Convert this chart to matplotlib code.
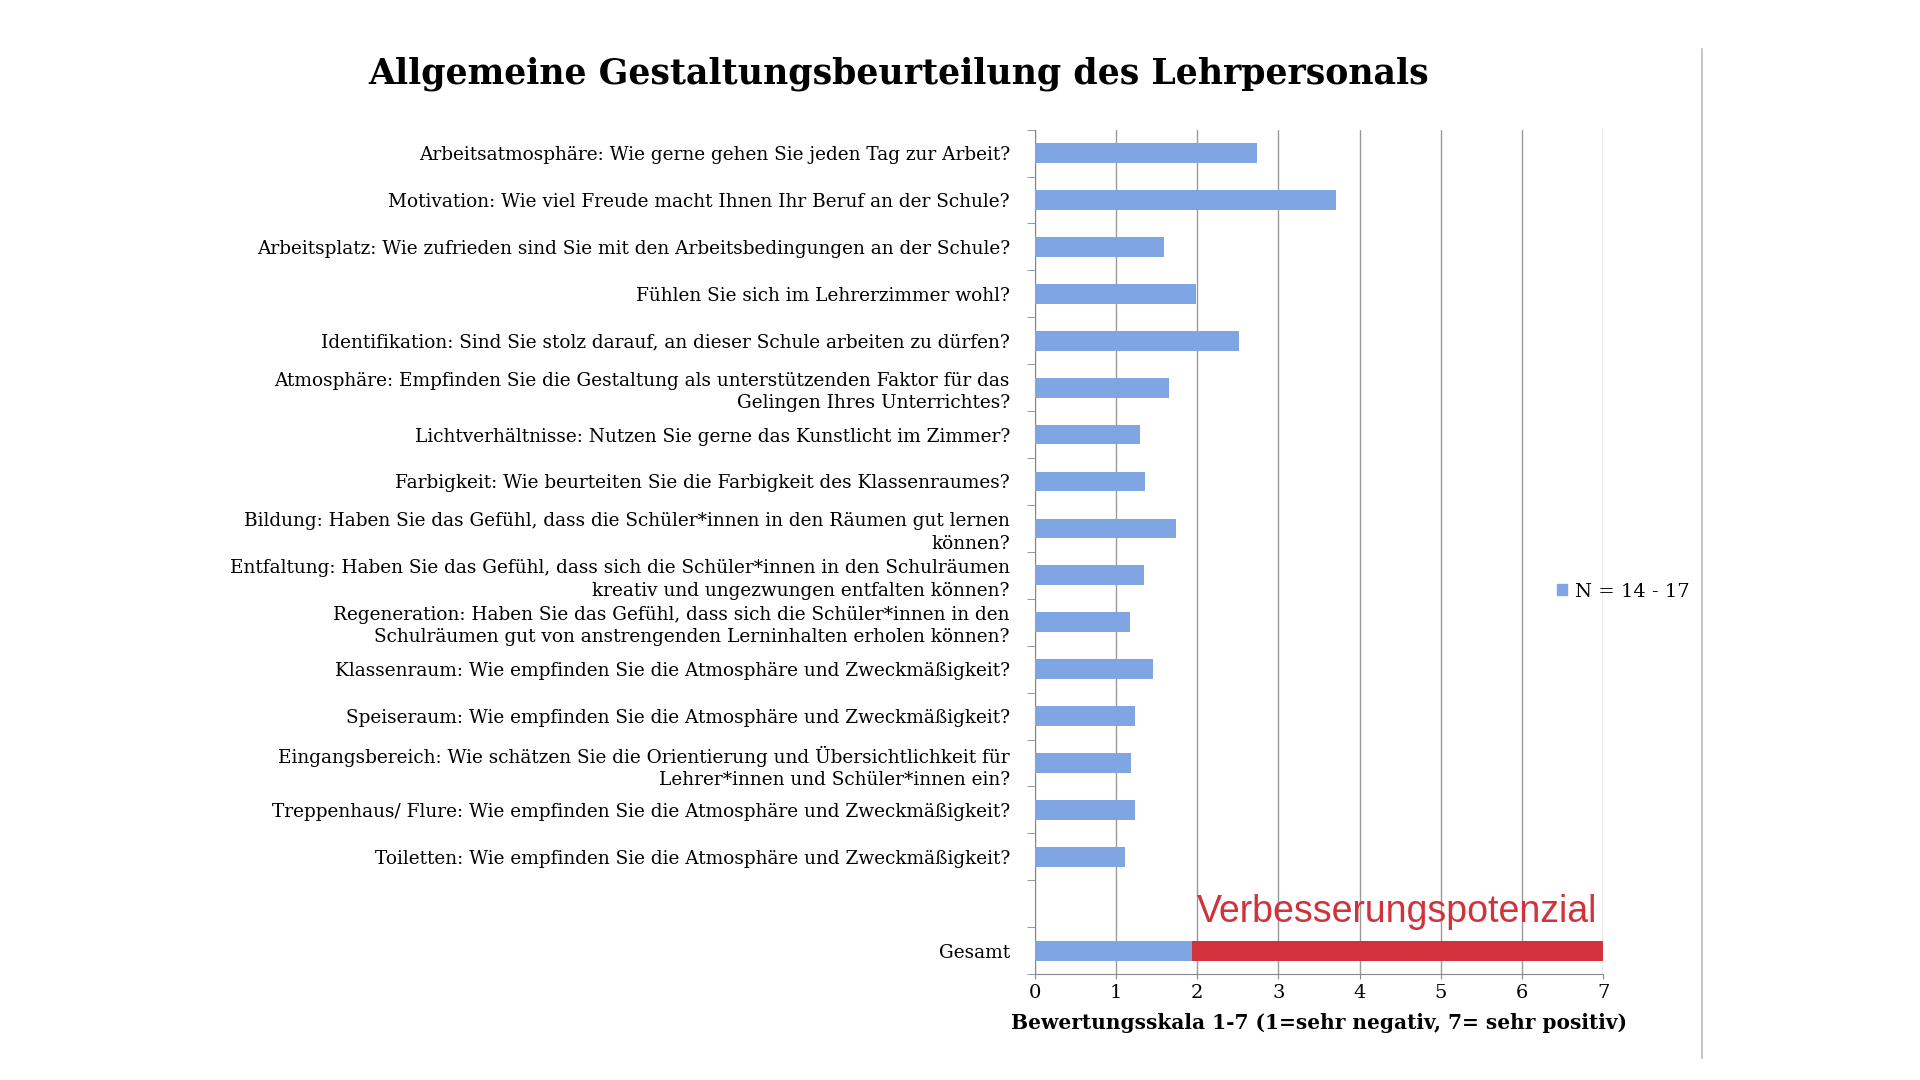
import matplotlib
matplotlib.use("Agg")
import matplotlib.pyplot as plt
from matplotlib.lines import Line2D
from matplotlib.patches import Patch

questions = [
    "Arbeitsatmosphäre: Wie gerne gehen Sie jeden Tag zur Arbeit?",
    "Motivation: Wie viel Freude macht Ihnen Ihr Beruf an der Schule?",
    "Arbeitsplatz: Wie zufrieden sind Sie mit den Arbeitsbedingungen an der Schule?",
    "Fühlen Sie sich im Lehrerzimmer wohl?",
    "Identifikation: Sind Sie stolz darauf, an dieser Schule arbeiten zu dürfen?",
    "Atmosphäre: Empfinden Sie die Gestaltung als unterstützenden Faktor für das\nGelingen Ihres Unterrichtes?",
    "Lichtverhältnisse: Nutzen Sie gerne das Kunstlicht im Zimmer?",
    "Farbigkeit: Wie beurteiten Sie die Farbigkeit des Klassenraumes?",
    "Bildung: Haben Sie das Gefühl, dass die Schüler*innen in den Räumen gut lernen\nkönnen?",
    "Entfaltung: Haben Sie das Gefühl, dass sich die Schüler*innen in den Schulräumen\nkreativ und ungezwungen entfalten können?",
    "Regeneration: Haben Sie das Gefühl, dass sich die Schüler*innen in den\nSchulräumen gut von anstrengenden Lerninhalten erholen können?",
    "Klassenraum: Wie empfinden Sie die Atmosphäre und Zweckmäßigkeit?",
    "Speiseraum: Wie empfinden Sie die Atmosphäre und Zweckmäßigkeit?",
    "Eingangsbereich: Wie schätzen Sie die Orientierung und Übersichtlichkeit für\nLehrer*innen und Schüler*innen ein?",
    "Treppenhaus/ Flure: Wie empfinden Sie die Atmosphäre und Zweckmäßigkeit?",
    "Toiletten: Wie empfinden Sie die Atmosphäre und Zweckmäßigkeit?",
    "",
    "Gesamt",
]
values = [2.74, 3.71, 1.59, 1.98, 2.52, 1.65, 1.29, 1.36, 1.74, 1.35, 1.17,
          1.45, 1.23, 1.18, 1.23, 1.11, 0, 1.94]
scale_max = 7

blue = "#7fa6e2"
red = "#d2323c"

plt.rcParams["font.family"] = ["DejaVu Serif"]
fig = plt.figure(figsize=(19.2, 10.8), dpi=100)
ax = fig.add_axes([0.539, 0.098, 0.296, 0.782])

ypos = list(range(len(questions)))
ax.barh(ypos, values, height=0.42, color=blue, zorder=3)
gi = len(questions) - 1
ax.barh(gi, scale_max - values[gi], left=values[gi], height=0.42, color=red, zorder=3)
ax.text(scale_max - 0.08, gi - 0.45, "Verbesserungspotenzial", color=red,
        family="Liberation Sans", fontsize=27, ha="right", va="bottom")

ax.set_ylim(len(questions) - 0.5, -0.5)
ax.set_xlim(0, scale_max)
ax.set_xticks(range(scale_max + 1))
ax.set_yticks(ypos)
ax.set_yticklabels(questions, fontsize=13.3, linespacing=1.3)
ax.set_yticks([y + 0.5 for y in range(-1, len(questions))], minor=True)
ax.tick_params(axis="y", which="major", length=0, pad=18)
ax.tick_params(axis="y", which="minor", length=6, color="#888888")
ax.tick_params(axis="x", labelsize=14, color="#888888")
ax.grid(axis="x", color="#999999", lw=1, zorder=0)
for s in ["top", "right"]:
    ax.spines[s].set_visible(False)
for s in ["left", "bottom"]:
    ax.spines[s].set_color("#888888")
ax.set_xlabel("Bewertungsskala 1-7 (1=sehr negativ, 7= sehr positiv)",
              fontsize=14.5, fontweight="bold", labelpad=8)

fig.suptitle("Allgemeine Gestaltungsbeurteilung des Lehrpersonals",
             fontsize=25, fontweight="bold", x=0.468, y=0.948)

fig.legend(handles=[Patch(color=blue, label="N = 14 - 17")], loc="center left",
           bbox_to_anchor=(0.802, 0.452), frameon=False, fontsize=14,
           handlelength=0.5, handleheight=0.5, handletextpad=0.4)

fig.add_artist(Line2D([0.8865, 0.8865], [0.02, 0.955], color="#bbbbbb", lw=1.2))

fig.savefig("out.png", dpi=100)
